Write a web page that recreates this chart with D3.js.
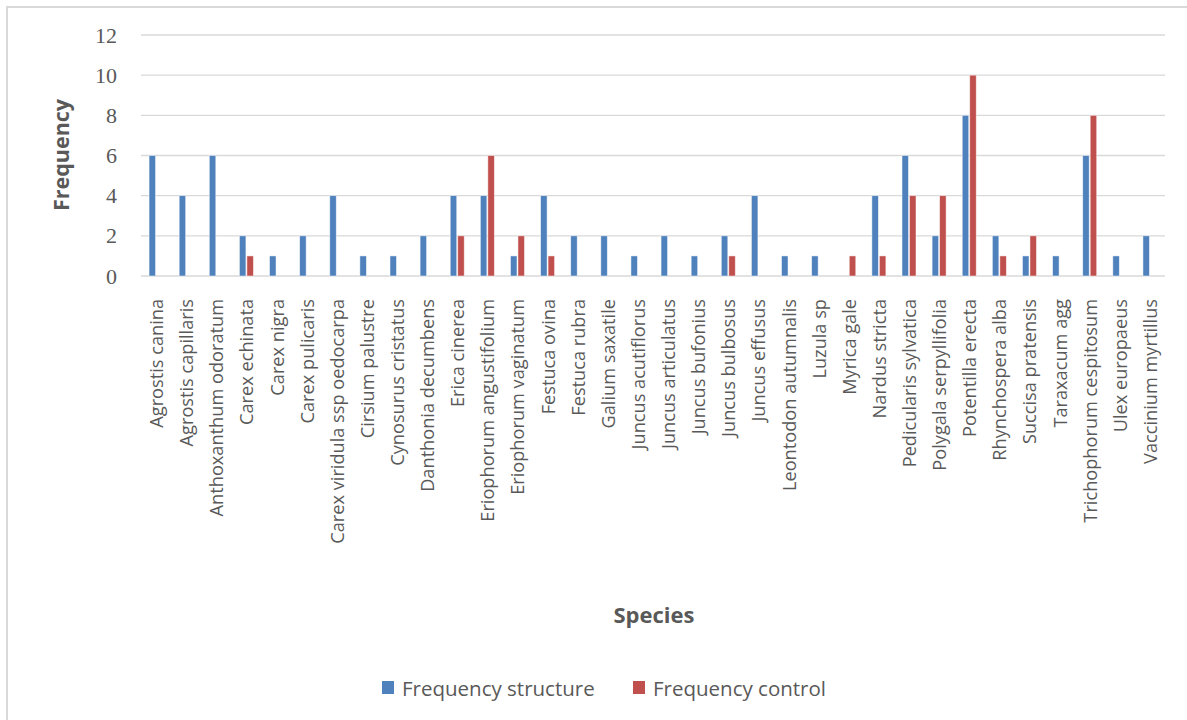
<!DOCTYPE html>
<html>
<head>
<meta charset="utf-8">
<script src="https://cdn.jsdelivr.net/npm/d3@7"></script>
<style>
  html, body { margin: 0; padding: 0; background: #fff; }
  svg { display: block; }
</style>
</head>
<body>
<svg id="chart" width="1187" height="720"></svg>
<script>
// Species recorded and how often each was found
const species = [
  "Agrostis canina", "Agrostis capillaris", "Anthoxanthum odoratum", "Carex echinata",
  "Carex nigra", "Carex pulicaris", "Carex viridula ssp oedocarpa", "Cirsium palustre",
  "Cynosurus cristatus", "Danthonia decumbens", "Erica cinerea", "Eriophorum angustifolium",
  "Eriophorum vaginatum", "Festuca ovina", "Festuca rubra", "Galium saxatile",
  "Juncus acutiflorus", "Juncus articulatus", "Juncus bufonius", "Juncus bulbosus",
  "Juncus effusus", "Leontodon autumnalis", "Luzula sp", "Myrica gale",
  "Nardus stricta", "Pedicularis sylvatica", "Polygala serpyllifolia", "Potentilla erecta",
  "Rhynchospera alba", "Succisa pratensis", "Taraxacum agg", "Trichophorum cespitosum",
  "Ulex europaeus", "Vaccinium myrtillus"
];
const freqStructure = [6, 4, 6, 2, 1, 2, 4, 1, 1, 2, 4, 4, 1, 4, 2, 2, 1, 2, 1, 2, 4, 1, 1, 0, 4, 6, 2, 8, 2, 1, 1, 6, 1, 2];
const freqControl   = [0, 0, 0, 1, 0, 0, 0, 0, 0, 0, 2, 6, 2, 1, 0, 0, 0, 0, 0, 1, 0, 0, 0, 1, 1, 4, 4, 10, 1, 2, 0, 8, 0, 0];
const seriesNames = ["Frequency structure", "Frequency control"];
const yTicks = [0, 2, 4, 6, 8, 10, 12];

const colors = ["#4F81BD", "#C0504D"];
const textColor = "#595959";
const svg = d3.select("#chart");

// outer chart frame
svg.append("path")
  .attr("d", "M7,720 V7 H1187")
  .attr("fill", "none")
  .attr("stroke", "#d9d9d9")
  .attr("stroke-width", 2);

const plot = { left: 141, right: 1165, top: 35, bottom: 276 };

const x = d3.scaleBand().domain(species).range([plot.left, plot.right]).paddingInner(0).paddingOuter(0);
const inner = d3.scaleBand().domain([0, 1]).range([0, 15]);
const y = d3.scaleLinear().domain([0, 12]).range([plot.bottom, plot.top]);

// gridlines
svg.append("g")
  .selectAll("line")
  .data(yTicks)
  .join("line")
  .attr("x1", plot.left).attr("x2", plot.right)
  .attr("y1", d => y(d)).attr("y2", d => y(d))
  .attr("stroke", "#d9d9d9")
  .attr("stroke-width", 1.3);

// y axis labels
const yAxis = svg.append("g")
  .attr("transform", `translate(${plot.left},0)`)
  .call(d3.axisLeft(y).tickValues(yTicks).tickSize(0).tickPadding(24));
yAxis.select(".domain").remove();
yAxis.selectAll("text")
  .attr("font-family", "'Liberation Serif', 'DejaVu Serif', serif")
  .attr("font-size", 22)
  .attr("fill", textColor);

// bars
const data = species.map((s, i) => ({ s, vals: [freqStructure[i], freqControl[i]] }));
const groups = svg.append("g")
  .selectAll("g")
  .data(data)
  .join("g")
  .attr("transform", d => `translate(${x(d.s) + x.bandwidth() / 2 - 7.5},0)`);
groups.selectAll("rect")
  .data(d => d.vals.map((v, k) => ({ v, k })))
  .join("rect")
  .attr("x", d => inner(d.k) + 0.5)
  .attr("width", inner.bandwidth() - 1)
  .attr("y", d => y(d.v))
  .attr("height", d => y(0) - y(d.v))
  .attr("fill", d => colors[d.k])
  .attr("stroke", "#ffffff")
  .attr("stroke-opacity", 0.6)
  .attr("stroke-width", 0.8);

// x axis labels, rotated
const xAxis = svg.append("g")
  .attr("transform", `translate(0,${plot.bottom})`)
  .call(d3.axisBottom(x).tickSize(0).tickPadding(0));
xAxis.select(".domain").remove();
xAxis.selectAll("text")
  .attr("font-family", "'Open Sans', sans-serif")
  .attr("font-size", 18.2)
  .attr("fill", textColor)
  .attr("text-anchor", "end")
  .attr("dy", null)
  .attr("dominant-baseline", "central")
  .attr("transform", "translate(0,23) rotate(-90)");

// axis titles
svg.append("text")
  .attr("transform", "translate(69,155) rotate(-90)")
  .attr("text-anchor", "middle")
  .attr("font-family", "'Open Sans', sans-serif")
  .attr("font-weight", "bold")
  .attr("font-size", 21.5)
  .attr("fill", textColor)
  .text("Frequency");

svg.append("text")
  .attr("x", 654).attr("y", 623)
  .attr("text-anchor", "middle")
  .attr("font-family", "'Open Sans', sans-serif")
  .attr("font-weight", "bold")
  .attr("font-size", 22)
  .attr("fill", textColor)
  .text("Species");

// legend
const legendX = [382, 633];
const legend = svg.append("g")
  .selectAll("g")
  .data(seriesNames)
  .join("g")
  .attr("transform", (d, i) => `translate(${legendX[i]},681)`);
legend.append("rect")
  .attr("width", 12).attr("height", 13)
  .attr("fill", (d, i) => colors[i]);
legend.append("text")
  .attr("x", 20).attr("y", 7)
  .attr("dominant-baseline", "central")
  .attr("font-family", "'Open Sans', sans-serif")
  .attr("font-size", 20.5)
  .attr("fill", textColor)
  .text(d => d);
</script>
</body>
</html>
